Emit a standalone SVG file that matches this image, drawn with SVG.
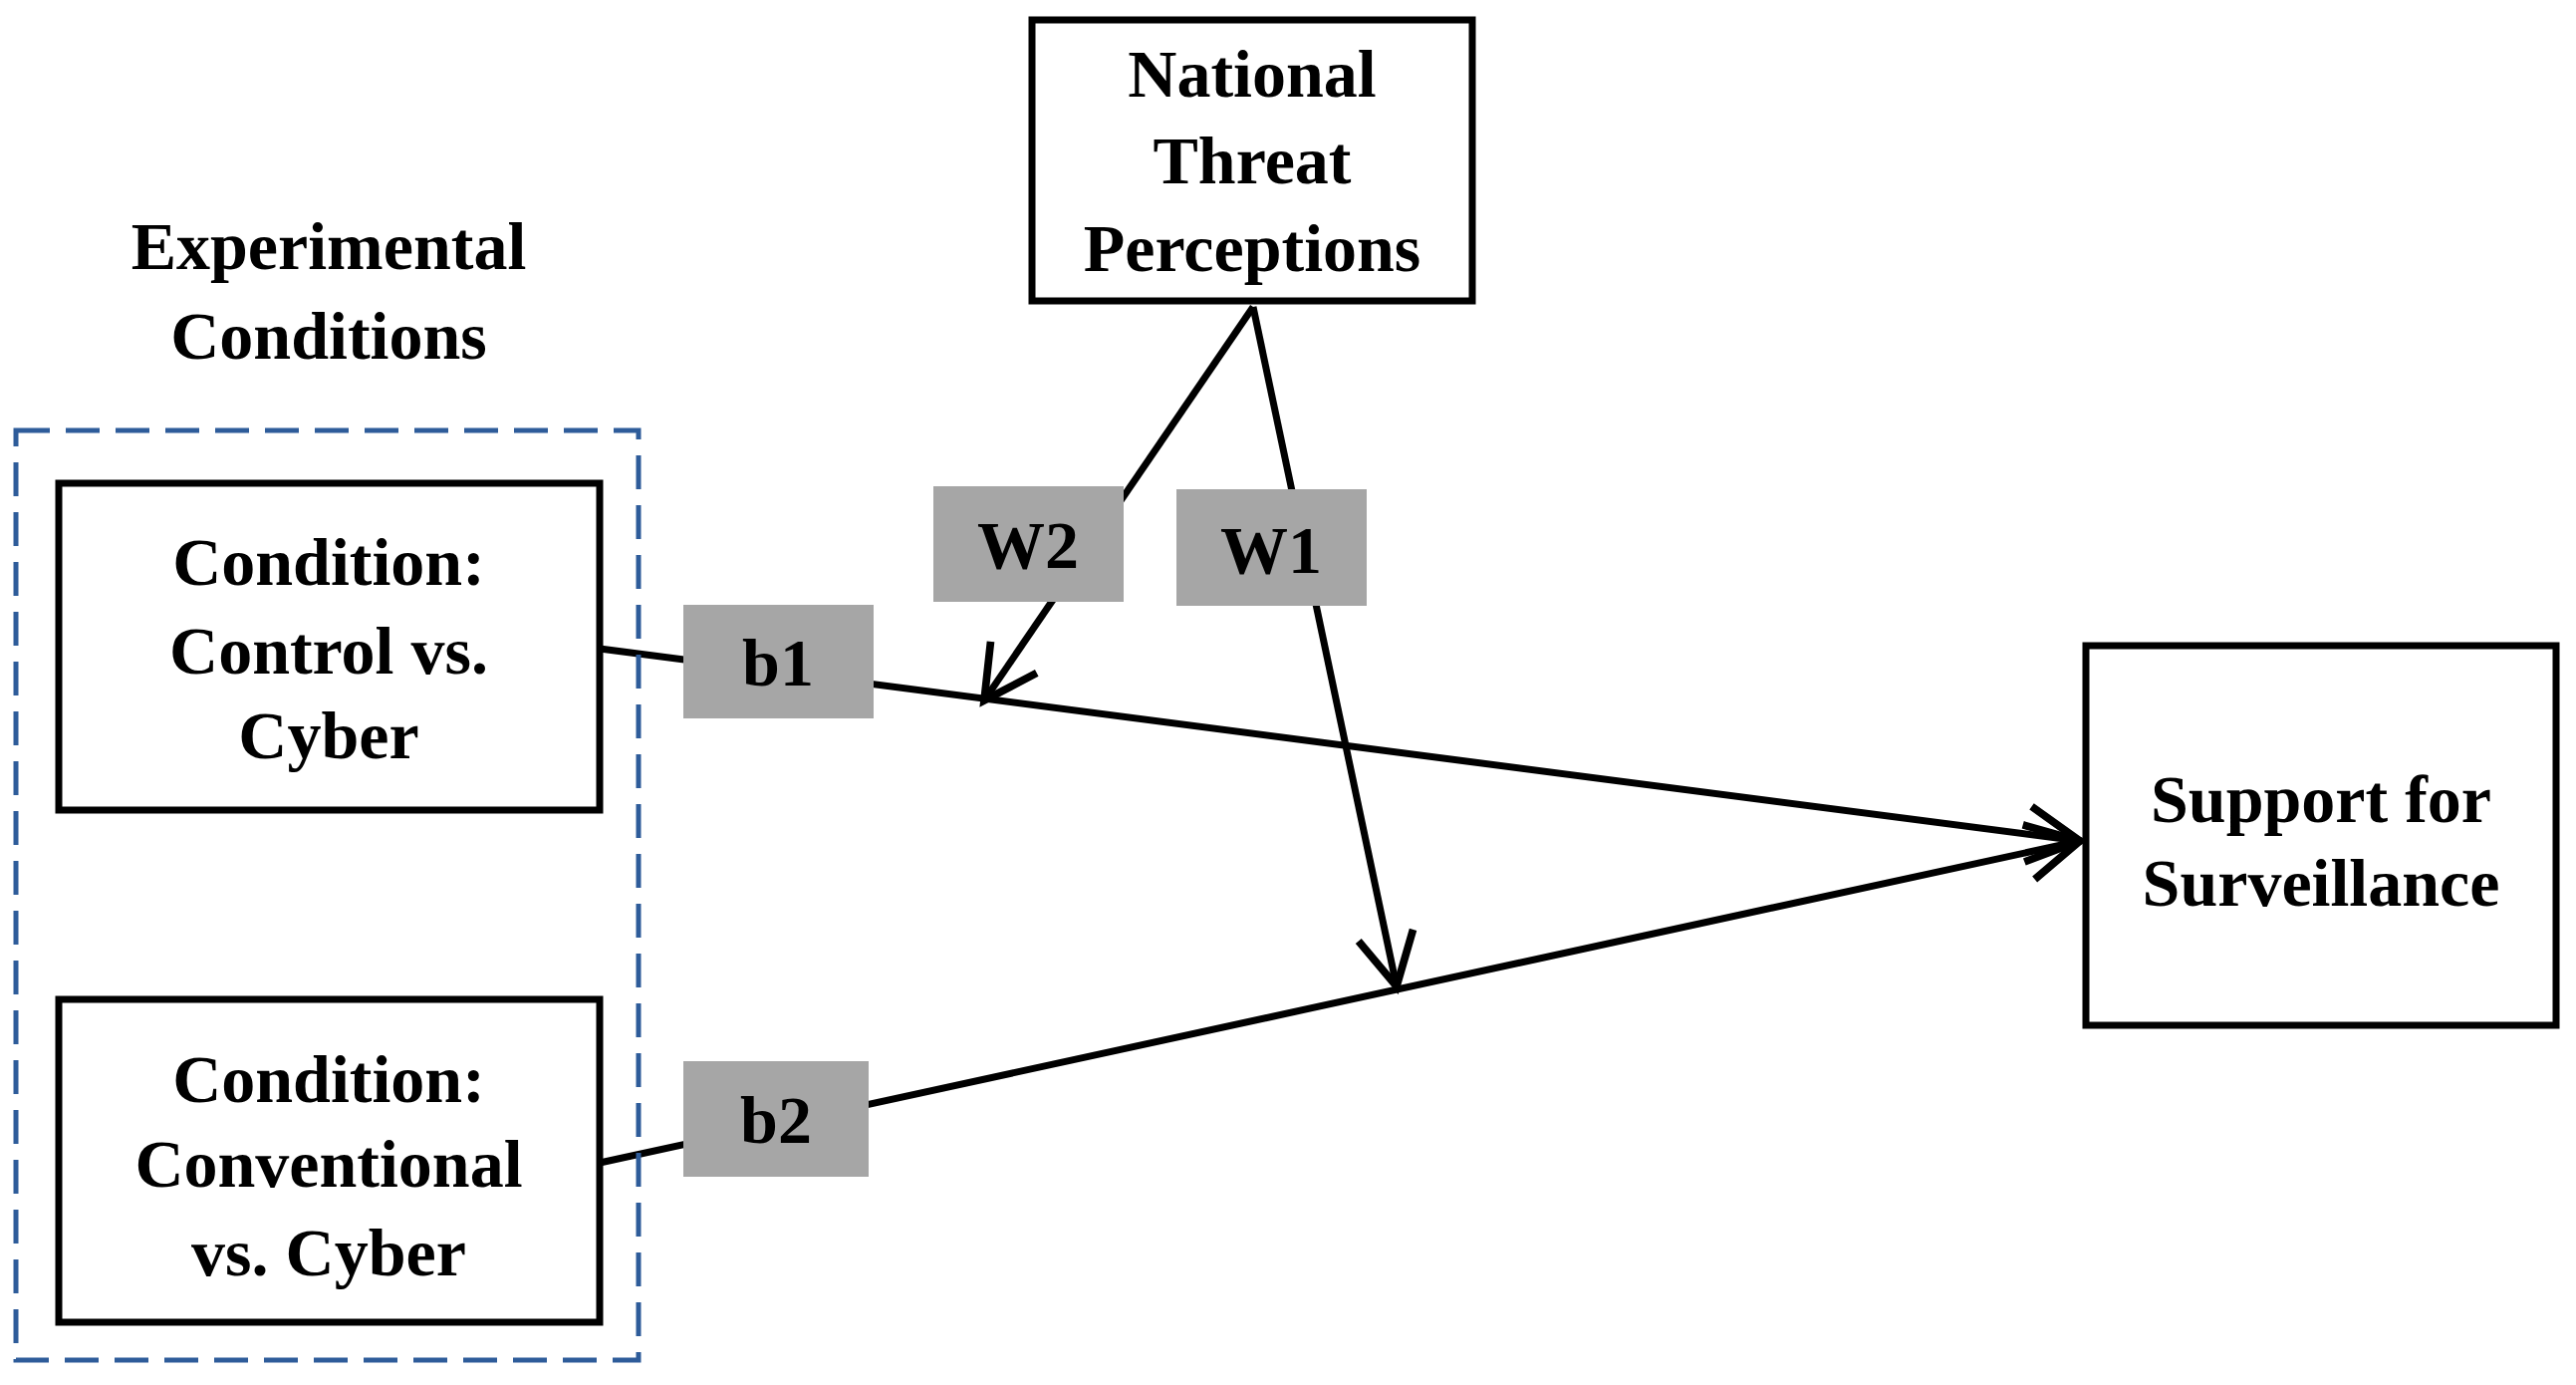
<svg xmlns="http://www.w3.org/2000/svg" width="2586" height="1390" viewBox="0 0 2586 1390">
<style>
text{font-family:"Liberation Serif",serif;font-weight:bold;font-size:68px;text-anchor:middle;fill:#000}
.box{fill:#fff;stroke:#000;stroke-width:7}
.lab{fill:#a6a6a6}
.ln{stroke:#000;stroke-width:7;fill:none}
</style>
<defs>
<marker id="ah" markerWidth="10" markerHeight="10" refX="8.5" refY="5" orient="auto" markerUnits="strokeWidth">
<path d="M1,1 L8.5,5 L1,9" fill="none" stroke="#000" stroke-width="1.1"/>
</marker>
</defs>
<rect width="2586" height="1390" fill="#fff"/>
<g id="connectors">
<line class="ln" x1="602" y1="651" x2="2088" y2="844" marker-end="url(#ah)"/>
<line class="ln" x1="602" y1="1167" x2="2088" y2="844" marker-end="url(#ah)"/>
<line class="ln" x1="1258" y1="308" x2="988" y2="703" marker-end="url(#ah)"/>
<line class="ln" x1="1258" y1="308" x2="1402" y2="990" marker-end="url(#ah)"/>
</g>
<g id="group-label"><text x="330" y="270">Experimental</text><text x="330" y="360">Conditions</text></g>
<rect id="group" x="16" y="432" width="625" height="933" fill="none" stroke="#2e5c9a" stroke-width="5" stroke-dasharray="34,16"/>
<g id="threat"><rect class="box" x="1036" y="20" width="442" height="282"/>
<text x="1257" y="97">National</text><text x="1257" y="184">Threat</text><text x="1257" y="272">Perceptions</text></g>
<g id="cond1"><rect class="box" x="59" y="485" width="543" height="328"/>
<text x="330" y="587">Condition:</text><text x="330" y="676">Control vs.</text><text x="330" y="761">Cyber</text></g>
<g id="cond2"><rect class="box" x="59" y="1003" width="543" height="324"/>
<text x="330" y="1106">Condition:</text><text x="330" y="1191">Conventional</text><text x="330" y="1280">vs. Cyber</text></g>
<g id="support"><rect class="box" x="2094" y="648" width="472" height="381"/>
<text x="2330" y="825">Support for</text><text x="2330" y="909">Surveillance</text></g>
<g id="W2"><rect class="lab" x="937" y="488" width="191" height="116"/><text x="1032" y="570">W2</text></g>
<g id="W1"><rect class="lab" x="1181" y="491" width="191" height="117"/><text x="1276" y="575">W1</text></g>
<g id="b1"><rect class="lab" x="686" y="607" width="191" height="114"/><text x="781" y="688">b1</text></g>
<g id="b2"><rect class="lab" x="686" y="1065" width="186" height="116"/><text x="779" y="1147">b2</text></g>
</svg>
